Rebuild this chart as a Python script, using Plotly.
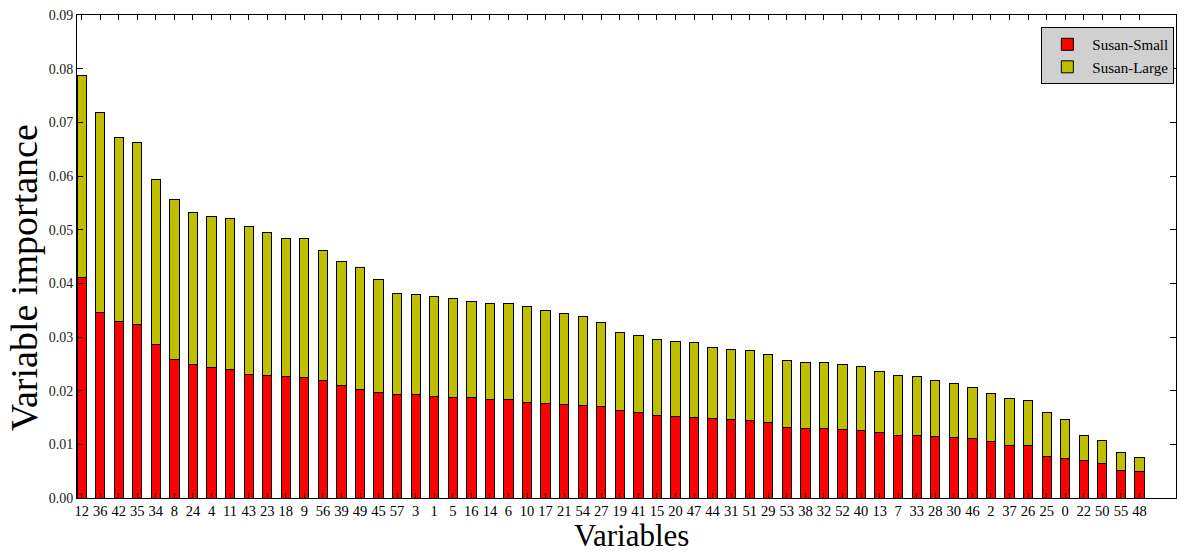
import plotly.graph_objects as go

variables = ["12", "36", "42", "35", "34", "8", "24", "4", "11", "43", "23", "18", "9", "56",
             "39", "49", "45", "57", "3", "1", "5", "16", "14", "6", "10", "17", "21", "54",
             "27", "19", "41", "15", "20", "47", "44", "31", "51", "29", "53", "38", "32",
             "52", "40", "13", "7", "33", "28", "30", "46", "2", "37", "26", "25", "0", "22",
             "50", "55", "48"]

susan_small = [0.0411, 0.0346, 0.0329, 0.0324, 0.0286, 0.0258, 0.0248, 0.0243, 0.0239, 0.0230,
               0.0228, 0.0226, 0.0225, 0.0219, 0.0209, 0.0202, 0.0197, 0.0193, 0.0192, 0.0189,
               0.0188, 0.0187, 0.0184, 0.0184, 0.0178, 0.0176, 0.0174, 0.0173, 0.0171, 0.0163,
               0.0160, 0.0153, 0.0151, 0.0150, 0.0148, 0.0147, 0.0145, 0.0140, 0.0132, 0.0130,
               0.0129, 0.0127, 0.0126, 0.0122, 0.0117, 0.0116, 0.0114, 0.0112, 0.0110, 0.0105,
               0.0098, 0.0097, 0.0077, 0.0073, 0.0070, 0.0064, 0.0052, 0.0050]

susan_large = [0.0377, 0.0372, 0.0343, 0.0338, 0.0308, 0.0298, 0.0284, 0.0281, 0.0281, 0.0276,
               0.0267, 0.0258, 0.0258, 0.0243, 0.0231, 0.0228, 0.0211, 0.0188, 0.0187, 0.0186,
               0.0183, 0.0180, 0.0179, 0.0178, 0.0178, 0.0174, 0.0170, 0.0165, 0.0156, 0.0146,
               0.0142, 0.0142, 0.0141, 0.0140, 0.0132, 0.0129, 0.0130, 0.0128, 0.0124, 0.0123,
               0.0123, 0.0122, 0.0119, 0.0114, 0.0112, 0.0110, 0.0105, 0.0102, 0.0095, 0.0090,
               0.0087, 0.0085, 0.0082, 0.0074, 0.0046, 0.0044, 0.0032, 0.0025]

y_ticks = [0.00, 0.01, 0.02, 0.03, 0.04, 0.05, 0.06, 0.07, 0.08, 0.09]

pos = list(range(len(variables)))
FONT = "Liberation Serif"

fig = go.Figure()
fig.add_trace(go.Bar(x=pos, y=susan_small, name="Susan-Small", width=0.5,
                     marker=dict(color="#ff0000", line=dict(color="black", width=1))))
fig.add_trace(go.Bar(x=pos, y=susan_large, name="Susan-Large", width=0.5,
                     marker=dict(color="#bfbf00", line=dict(color="black", width=1))))

fig.update_layout(
    barmode="stack",
    width=1189, height=553,
    margin=dict(l=77, r=13, t=15, b=55, autoexpand=False),
    plot_bgcolor="white", paper_bgcolor="white",
    font=dict(family=FONT, color="black"),
    showlegend=True,
    legend=dict(x=0.9985, y=0.975, xanchor="right", yanchor="top",
                bgcolor="#d0d0d0", bordercolor="black", borderwidth=1,
                font=dict(family=FONT, size=15, color="black"),
                traceorder="normal", itemwidth=40, tracegroupgap=0),
    xaxis=dict(
        range=[-0.25, 58.97], automargin=False,
        tickmode="array", tickvals=pos, ticktext=variables,
        ticks="inside", ticklen=5, tickcolor="black",
        showline=True, linecolor="black", linewidth=1, mirror="allticks",
        showgrid=False, zeroline=False,
        tickfont=dict(family=FONT, size=14.5, color="black"),
    ),
    yaxis=dict(
        range=[0, 0.09], automargin=False,
        tickmode="array", tickvals=y_ticks, tickformat=".2f",
        ticks="inside", ticklen=6, tickcolor="black",
        showline=True, linecolor="black", linewidth=1, mirror="allticks",
        showgrid=False, zeroline=False,
        tickfont=dict(family=FONT, size=14, color="#222222"),
    ),
    annotations=[
        dict(text="Variables", xref="paper", yref="paper", x=0.505, y=0,
             xanchor="center", yanchor="top", yshift=-19, showarrow=False, borderpad=0,
             font=dict(family=FONT, size=31, color="black")),
        dict(text="Variable importance", xref="paper", yref="paper", x=0, y=0.455,
             xanchor="center", yanchor="middle", xshift=-53, textangle=-90, showarrow=False,
             font=dict(family=FONT, size=38, color="black")),
    ],
)

fig.write_html("out.html", config={"displayModeBar": False},
               post_script="document.body.style.margin='0';document.body.style.overflow='hidden';")
